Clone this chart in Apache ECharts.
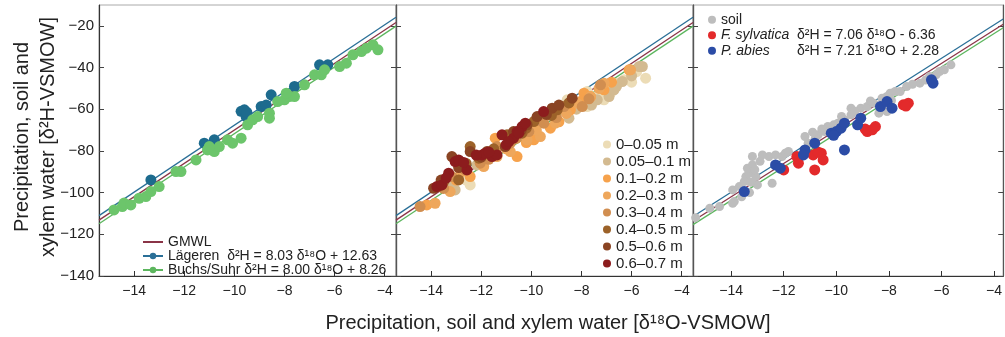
<!DOCTYPE html>
<html>
<head>
<meta charset="utf-8">
<script src="https://cdn.jsdelivr.net/npm/echarts@6/dist/echarts.min.js"></script>
<style>
  html, body { margin: 0; padding: 0; background: #fff; }
  #chart { width: 1005px; height: 337px; }
</style>
</head>
<body>
<div id="chart"></div>
<script>
// --- axes ---
const xTicks = [-14, -12, -10, -8, -6, -4];
const yTicks = [-140, -120, -100, -80, -60, -40, -20];

// --- meteoric water lines (slope, intercept) ---
const lineNames = ['GMWL', 'Lägeren', 'Buchs/Suhr'];
const lineSlopes = [8.00, 8.03, 8.00];
const lineIntercepts = [10, 12.63, 8.26];
const lineColors = ['#8a3447', '#2a6f97', '#5cb65e'];

// --- panel 1: precipitation ---
const lagerenPts = [
  [-13.33, -93.9], [-11.2, -76.3], [-10.8, -74.7], [-9.73, -61], [-9.53, -63.5],
  [-9.6, -60.3], [-9.5, -61.5], [-8.93, -58.7], [-8.73, -58], [-8.53, -53.1],
  [-7.6, -49.1], [-6.6, -38.7], [-6.27, -38.7]
];
const buchsPts = [
  [-14.8, -108.3], [-14.47, -106.7], [-14.4, -105], [-14.13, -105.9], [-13.8, -102.7],
  [-13.53, -101.9], [-13.33, -99.5], [-13, -97.1], [-12.33, -89.9], [-12.13, -89.9],
  [-11.53, -84.3], [-11.07, -79.5], [-10.8, -80.3], [-10.6, -77.9], [-11, -77.9],
  [-10.27, -74.7], [-10.07, -76.3], [-9.73, -73.9], [-9.47, -67.5], [-9.27, -65.1],
  [-9.07, -63.5], [-8.6, -61.9], [-8.6, -64.3], [-8.27, -56.3], [-8, -55.5],
  [-7.8, -53.9], [-7.6, -53.9], [-7.93, -52.3], [-7.2, -48.3], [-6.8, -43.5],
  [-6.53, -43.5], [-6.4, -41.1], [-5.8, -39.5], [-5.53, -37.9], [-5.27, -33.9],
  [-4.93, -32.3], [-4.73, -30.7], [-4.47, -29.1], [-4.27, -31.5]
];

// --- panel 2: soil water by depth ---
const depthNames = ['0–0.05 m', '0.05–0.1 m', '0.1–0.2 m', '0.2–0.3 m',
  '0.3–0.4 m', '0.4–0.5 m', '0.5–0.6 m', '0.6–0.7 m'];
const depthColors = ['#ecdcb6', '#d3ba90', '#f6a24c', '#eea75c',
  '#d18e50', '#9c6229', '#8a4423', '#8c1c1d'];
const depth0 = [
  [-12.44, -96.3], [-8.57, -55.5], [-8.3, -58.7], [-7.77, -58.7], [-7.5, -55.5],
  [-7.1, -55.5], [-6.84, -52.3], [-6.57, -47.5], [-6.3, -45.9], [-5.44, -45.1],
  [-7.77, -51.5], [-12.6, -94], [-8.0, -57], [-7.3, -53], [-6.9, -50], [-6.0, -47], [-5.8, -42]
];
const depth1 = [
  [-13.04, -98.7], [-12.17, -86.7], [-8.5, -64.3], [-7.9, -55.5], [-7.37, -55.5],
  [-6.9, -53.9], [-6.7, -50.7], [-6.37, -46.7], [-5.7, -39.5], [-5.57, -39.5],
  [-13.2, -96], [-8.2, -60], [-7.6, -58], [-6.6, -49], [-6.0, -44]
];
const depth2 = [
  [-14.17, -105.9], [-12.44, -92.3], [-11.44, -73.9], [-10.57, -82.7], [-9.9, -74.7],
  [-9.24, -69.1], [-8.44, -60.3], [-7.9, -52.3], [-7.64, -53.9], [-7.1, -50.7],
  [-6.1, -41.1], [-13.0, -94], [-12.0, -86], [-10.2, -76], [-8.9, -66], [-8.0, -56], [-6.8, -47]
];
const depth3 = [
  [-13.84, -105.1], [-13.24, -99.5], [-11.9, -87.5], [-11.37, -82.7], [-10.84, -80.3],
  [-10.17, -74.7], [-9.64, -73.1], [-9.04, -66.7], [-8.17, -57.1], [-7.64, -53.9],
  [-7.1, -47.5], [-6.04, -41.1], [-12.8, -90], [-11.0, -79], [-9.8, -70], [-8.6, -62], [-7.3, -50]
];
const depth4 = [
  [-14.44, -106.7], [-13.17, -92.3], [-12.64, -89.1], [-12.04, -85.9], [-11.37, -77.9],
  [-10.84, -76.3], [-10.1, -70.7], [-9.5, -66.7], [-8.7, -58.7], [-7.97, -58.7],
  [-7.24, -48.3], [-13.5, -98], [-11.7, -84], [-10.6, -74], [-9.0, -64], [-7.7, -55]
];
const depth5 = [
  [-13.5, -94.7], [-12.9, -93.9], [-12.44, -77.9], [-12.1, -83.5], [-10.97, -72.3],
  [-10.37, -71.5], [-9.9, -65.9], [-9.37, -61.9], [-8.97, -60.3], [-13.7, -97],
  [-12.6, -86], [-11.5, -79], [-10.2, -69], [-9.2, -63], [-8.5, -57]
];
const depth6 = [
  [-13.9, -97.9], [-13.17, -82.7], [-12.44, -80.3], [-11.77, -80.3], [-11.04, -77.9],
  [-10.71, -70.7], [-10.17, -67.5], [-9.77, -63.5], [-9.17, -59.5], [-8.37, -54.7],
  [-13.6, -94], [-12.9, -88], [-12.0, -83], [-10.4, -70], [-9.4, -62.5], [-8.9, -58]
];
const depth7 = [
  [-13.77, -97.1], [-13.57, -96.3], [-13.3, -90.7], [-13.04, -85.1], [-12.9, -84.3],
  [-12.57, -89.1], [-11.97, -81.9], [-11.84, -81.1], [-11.57, -82.7], [-11.37, -81.9],
  [-11.17, -72.3], [-10.71, -73.9], [-10.57, -70.7], [-10.37, -68.3], [-10.24, -66.7],
  [-9.51, -61.1], [-13.4, -93], [-12.7, -85.5], [-12.2, -82], [-11.7, -80.5],
  [-11.0, -77], [-10.5, -71.5], [-10.9, -75.5]
];
const depthPts = [depth0, depth1, depth2, depth3, depth4, depth5, depth6, depth7];

// --- panel 3: soil vs xylem ---
const soilPts = [
  [-15.35, -112], [-14.81, -107.5], [-14.44, -106.7], [-13.88, -104.3], [-13.94, -105.1],
  [-13.94, -98.7], [-13.69, -97.1], [-13.5, -94.7], [-13.44, -92.3], [-13.31, -90.7],
  [-13.38, -88.3], [-13.19, -86.7], [-13.06, -92.3], [-13.0, -96.3], [-12.44, -95.5],
  [-13.19, -82.7], [-12.81, -81.9], [-12.56, -82.7], [-12.31, -81.9], [-12.06, -82.7],
  [-11.94, -81.1], [-11.82, -80.3], [-11.19, -73.1], [-11.07, -76.3], [-10.69, -72.3],
  [-10.44, -70.7], [-10.32, -68.3], [-9.94, -66.7], [-9.69, -65.1], [-9.44, -62.7],
  [-9.44, -59.5], [-9.07, -59.5], [-8.82, -58.7], [-8.57, -57.1], [-8.38, -61.9],
  [-8.07, -61.1], [-8.26, -54.7], [-8.07, -53.9], [-7.95, -52.3], [-7.76, -51.5],
  [-7.57, -51.5], [-7.32, -49.1], [-6.82, -47.5], [-6.45, -44.3], [-6.07, -41.9],
  [-5.89, -41.1], [-5.64, -38.7], [-13.25, -95], [-13.1, -89], [-13.3, -100],
  [-13.6, -102], [-12.9, -85], [-10.8, -74], [-10.9, -71], [-10.55, -69.5],
  [-10.1, -67.5], [-9.8, -63.5], [-9.3, -61], [-8.7, -56], [-7.9, -55.8],
  [-7.1, -48], [-6.6, -46], [-6.2, -43.5]
];
const sylvaticaPts = [
  [-11.5, -82.7], [-11.44, -85.9], [-10.88, -81.9], [-10.82, -89.1], [-10.57, -81.1],
  [-10.5, -84.3], [-12.0, -89.1], [-8.82, -70.7], [-8.63, -69.9], [-8.51, -68.3],
  [-7.45, -57.9], [-7.26, -57.1], [-8.9, -69.5], [-10.7, -80.5], [-7.35, -58.5]
];
const abiesPts = [
  [-13.5, -99.5], [-12.31, -86.7], [-12.13, -88.3], [-11.19, -79.5], [-11.25, -81.9],
  [-10.82, -76.3], [-10.19, -71.5], [-10.0, -70.7], [-9.82, -69.1], [-9.69, -66.7],
  [-9.19, -67.5], [-9.07, -64.3], [-9.69, -79.5], [-8.32, -58.7], [-8.07, -56.3],
  [-7.88, -59.5], [-6.38, -45.9], [-6.32, -47.5], [-10.1, -72.5]
];

// x ranges of the three panels
const xMins = [-15.4, -15.4, -15.45];
const xMaxs = [-3.55, -3.55, -3.65];

const FONT = '"Liberation Sans", Arial, sans-serif';
const minus = v => String(v).replace('-', '\u2212');

const chart = echarts.init(document.getElementById('chart'), null, { renderer: 'canvas' });

const grids = [
  { left: 99, top: 5, width: 297, height: 271 },
  { left: 396, top: 5, width: 297, height: 271 },
  { left: 693, top: 5, width: 315, height: 271 }
].map(g => Object.assign(g, { show: true, borderColor: '#aaa', borderWidth: 1, containLabel: false }));

const xAxes = [0, 1, 2].map(i => ({
  gridIndex: i, type: 'value', min: xMins[i], max: xMaxs[i],
  axisLine: { show: true, lineStyle: { color: '#333', width: 1.2 } },
  axisTick: { show: true, inside: true, length: 5, customValues: xTicks, lineStyle: { color: '#333' } },
  axisLabel: { customValues: xTicks, formatter: minus, color: '#222', fontSize: 14, fontFamily: FONT, margin: 8 },
  splitLine: { show: false }
}));

const yAxes = [];
[0, 1, 2].forEach(i => {
  ['left', 'right'].forEach(pos => {
    yAxes.push({
      gridIndex: i, type: 'value', position: pos, min: -140, max: -10,
      axisLine: { show: true, onZero: false, lineStyle: { color: pos === 'left' && i === 0 ? '#333' : '#555', width: 1.2 } },
      axisTick: { show: true, inside: true, length: 5, customValues: yTicks, lineStyle: { color: '#444' } },
      axisLabel: {
        show: i === 0 && pos === 'left', customValues: yTicks, formatter: minus,
        color: '#222', fontSize: 15, fontFamily: FONT, margin: 5
      },
      splitLine: { show: false }
    });
  });
});

const series = [];
// regression lines in every panel
[0, 1, 2].forEach(i => {
  lineNames.forEach((name, k) => {
    series.push({
      name: name, type: 'line', xAxisIndex: i, yAxisIndex: i * 2,
      data: [[xMins[i], lineSlopes[k] * xMins[i] + lineIntercepts[k]],
             [xMaxs[i], lineSlopes[k] * xMaxs[i] + lineIntercepts[k]]],
      symbol: 'circle', showSymbol: false, symbolSize: 8,
      lineStyle: { color: lineColors[k], width: 1.3 },
      itemStyle: { color: lineColors[k] },
      z: 1, silent: true
    });
  });
});

const dot = (name, data, color, size, xi) => ({
  name: name, type: 'scatter', xAxisIndex: xi, yAxisIndex: xi * 2,
  data: data, symbolSize: size, itemStyle: { color: color, opacity: 1 }, z: 3
});

series.push(dot('Lägeren pts', lagerenPts, '#1d6b8e', 11, 0));
series.push(dot('Buchs/Suhr pts', buchsPts, '#6cc56b', 11, 0));
depthNames.forEach((n, k) => series.push(dot(n, depthPts[k], depthColors[k], 11, 1)));
series.push(dot('soil', soilPts, '#bdbdbd', 9, 2));
series.push(dot('F. sylvatica', sylvaticaPts, '#e32a2b', 11, 2));
series.push(dot('P. abies', abiesPts, '#2b4ca6', 11, 2));

const legendText = { color: '#222', fontSize: 14, fontFamily: FONT };

chart.setOption({
  animation: false,
  grid: grids,
  xAxis: xAxes,
  yAxis: yAxes,
  legend: [
    {
      orient: 'vertical', left: 137, top: 230, itemGap: 0, itemWidth: 20, itemHeight: 8,
      data: [
        { name: 'GMWL', itemStyle: { opacity: 0 } },
        { name: 'Lägeren' },
        { name: 'Buchs/Suhr' }
      ],
      selectedMode: false,
      textStyle: Object.assign({ lineHeight: 14 }, legendText),
      formatter: name => ({
        'GMWL': 'GMWL',
        'Lägeren': 'Lägeren  δ²H = 8.03 δ¹⁸O + 12.63',
        'Buchs/Suhr': 'Buchs/Suhr δ²H = 8.00 δ¹⁸O + 8.26'
      })[name]
    },
    {
      orient: 'vertical', left: 598, top: 131, itemGap: 0, itemWidth: 8, itemHeight: 8,
      icon: 'circle', data: depthNames, selectedMode: false,
      textStyle: Object.assign({ lineHeight: 17 }, legendText, { fontSize: 15 })
    },
    {
      orient: 'vertical', left: 703, top: 7, itemGap: 0, itemWidth: 8, itemHeight: 8,
      icon: 'circle', data: ['soil', 'F. sylvatica', 'P. abies'], selectedMode: false,
      textStyle: Object.assign({
        lineHeight: 15.5,
        rich: { it: { fontStyle: 'italic', width: 76, fontSize: 14, fontFamily: FONT, color: '#222' } }
      }, legendText),
      formatter: name => ({
        'soil': 'soil',
        'F. sylvatica': '{it|F. sylvatica}δ²H = 7.06 δ¹⁸O - 6.36',
        'P. abies': '{it|P. abies}δ²H = 7.21 δ¹⁸O + 2.28'
      })[name]
    }
  ],
  graphic: [
    {
      type: 'text', x: 35, y: 137, rotation: Math.PI / 2,
      style: {
        text: 'Precipitation, soil and\nxylem water [δ²H-VSMOW]',
        font: '20px ' + FONT, fill: '#222', align: 'center', verticalAlign: 'middle', lineHeight: 26
      }
    },
    {
      type: 'text', x: 548, y: 323,
      style: {
        text: 'Precipitation, soil and xylem water [δ¹⁸O-VSMOW]',
        font: '20px ' + FONT, fill: '#222', align: 'center', verticalAlign: 'middle'
      }
    }
  ],
  series: series
});
</script>
</body>
</html>
